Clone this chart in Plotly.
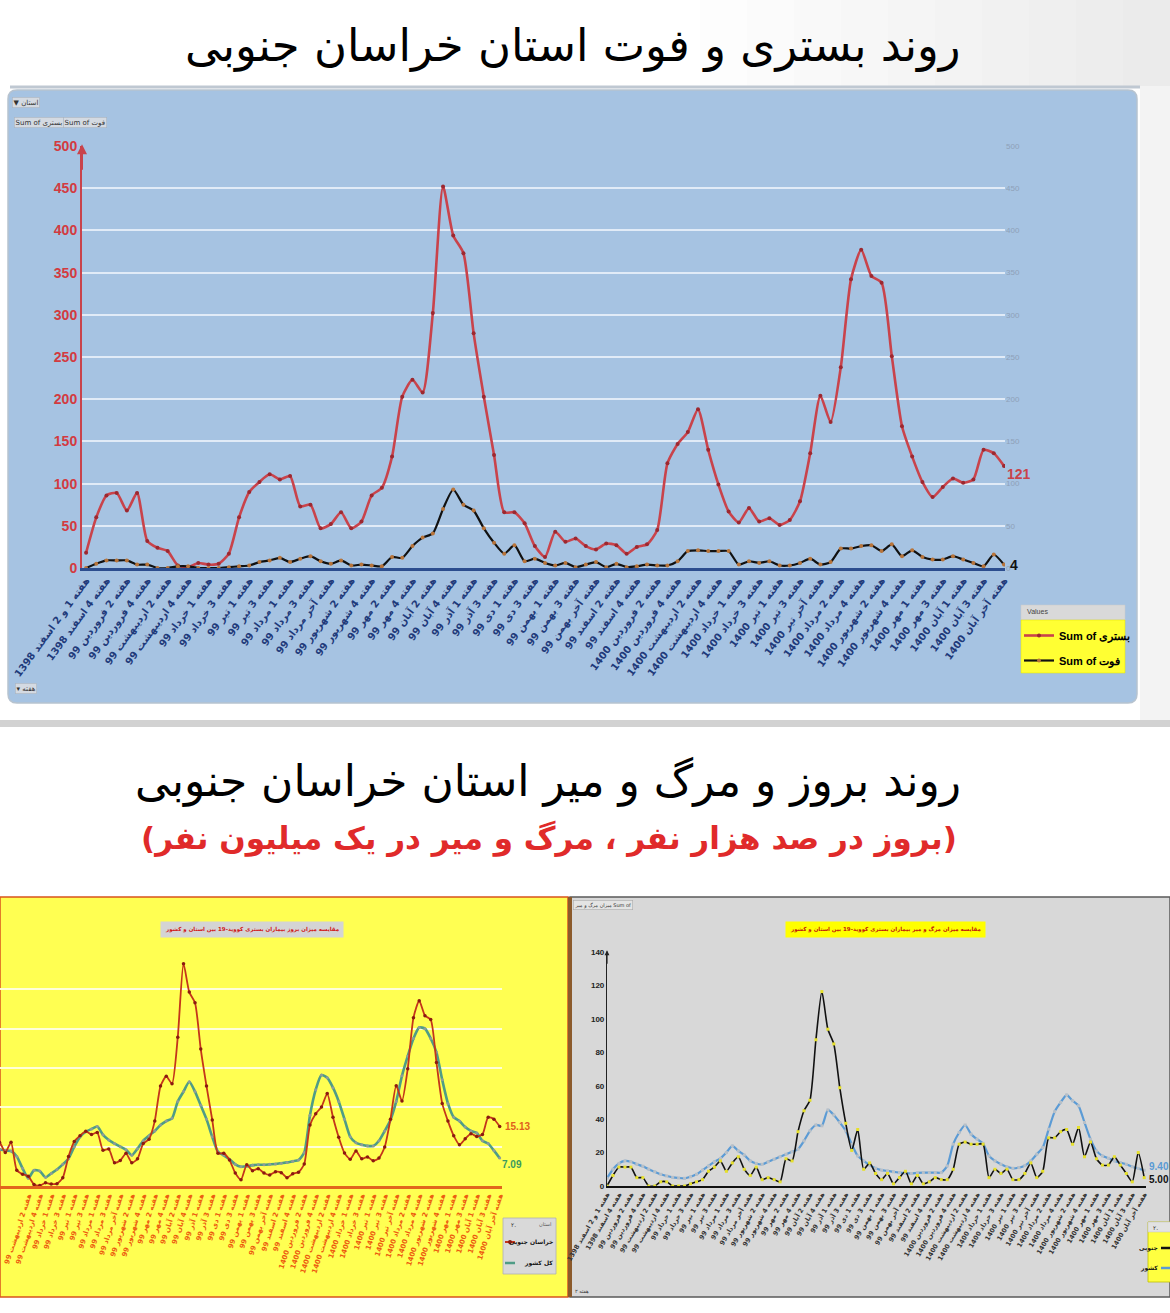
import plotly.graph_objects as go

W, H = 1170, 1313

# ---------------- data ----------------
week_labels = [
    "هفته 1 و 2 اسفند 1398", "هفته 4 اسفند 1398", "هفته 2 فروردین 99", "هفته 4 فروردین 99",
    "هفته 2 اردیبهشت 99", "هفته 4 اردیبهشت 99", "هفته 1 خرداد 99", "هفته 3 خرداد 99",
    "هفته 1 تیر 99", "هفته 3 تیر 99", "هفته 1 مرداد 99", "هفته 3 مرداد 99",
    "هفته آخر مرداد 99", "هفته 2 شهریور 99", "هفته 4 شهریور 99", "هفته 2 مهر 99",
    "هفته 4 مهر 99", "هفته 2 آبان 99", "هفته 4 آبان 99", "هفته 1 آذر 99",
    "هفته 3 آذر 99", "هفته 1 دی 99", "هفته 3 دی 99", "هفته 1 بهمن 99",
    "هفته 3 بهمن 99", "هفته آخر بهمن 99", "هفته 2 اسفند 99", "هفته 4 اسفند 99",
    "هفته 2 فروردین 1400", "هفته 4 فروردین 1400", "هفته 2 اردیبهشت 1400", "هفته 4 اردیبهشت 1400",
    "هفته 1 خرداد 1400", "هفته 3 خرداد 1400", "هفته 1 تیر 1400", "هفته 3 تیر 1400",
    "هفته آخر تیر 1400", "هفته 2 مرداد 1400", "هفته 4 مرداد 1400", "هفته 2 شهریور 1400",
    "هفته 4 شهریور 1400", "هفته 1 مهر 1400", "هفته 3 مهر 1400", "هفته 1 آبان 1400",
    "هفته 3 آبان 1400", "هفته آخر آبان 1400",
]
label_pos = [0, 2, 4, 6, 8, 10, 12, 14, 16, 18, 20, 22, 24, 26, 28, 30, 32, 34, 36, 38,
             40, 42, 44, 46, 48, 50, 52, 54, 56, 58, 60, 62, 64, 66, 68, 70, 72, 74, 76, 78,
             80, 82, 84, 86, 88, 90]
weeks = list(range(91))

# top chart: weekly hospitalised (بستری) and deaths (فوت)
hosp = [18, 60, 86, 89, 68, 89, 32, 24, 20, 3,
        1, 6, 4, 5, 17, 60, 90, 102, 111, 105,
        109, 73, 75, 47, 52, 66, 47, 55, 86, 95,
        132, 203, 223, 208, 302, 452, 394, 373, 278, 203,
        134, 66, 66, 53, 26, 13, 43, 31, 35, 26,
        22, 29, 27, 17, 25, 28, 45, 124, 147, 161,
        188, 140, 99, 67, 54, 71, 55, 59, 51, 57,
        79, 136, 204, 173, 238, 342, 377, 346, 338, 251,
        168, 132, 102, 84, 96, 106, 101, 105, 140, 136, 121]
death = [0, 5, 9, 9, 9, 4, 4, 0, 0, 2,
         2, 0, 0, 0, 1, 2, 3, 7, 9, 12,
         7, 11, 14, 8, 5, 9, 3, 4, 3, 2,
         13, 12, 26, 36, 41, 70, 93, 75, 68, 47,
         30, 17, 27, 8, 11, 6, 3, 6, 1, 4,
         7, 1, 5, 1, 2, 4, 3, 3, 8, 20,
         21, 20, 20, 20, 4, 8, 6, 8, 3, 3,
         6, 11, 4, 7, 23, 23, 26, 27, 20, 28,
         14, 21, 13, 10, 10, 14, 10, 6, 2, 16, 4]

# bottom-left: incidence of hospitalisation per 100k (province vs country)
inc_prov = [2.3, 7.5, 10.8, 11.1, 8.5, 11.1, 4.0, 3.0, 2.5, 0.4,
            0.1, 0.8, 0.5, 0.6, 2.1, 7.5, 11.3, 12.8, 13.9, 13.1,
            13.6, 9.1, 9.4, 5.9, 6.5, 8.3, 5.9, 6.9, 10.8, 11.9,
            16.5, 25.4, 27.9, 26.0, 37.8, 56.5, 49.3, 46.6, 34.8, 25.4,
            16.8, 8.3, 8.3, 6.6, 3.3, 1.6, 5.4, 3.9, 4.4, 3.3,
            2.8, 3.6, 3.4, 2.1, 3.1, 3.5, 5.6, 15.5, 18.4, 20.1,
            23.5, 17.5, 12.4, 8.4, 6.8, 8.9, 6.9, 7.4, 6.4, 7.1,
            9.9, 17.0, 25.5, 21.6, 29.8, 42.8, 47.1, 43.3, 42.3, 31.4,
            21.0, 16.5, 12.8, 10.5, 12.0, 13.3, 12.6, 13.1, 17.5, 17.0, 15.13]
inc_nat = [7.5, 8.5, 9.2, 9.3, 9.0, 8.9, 7.5, 4.5, 2.0, 4.0,
           3.8, 2.2, 3.2, 4.2, 5.5, 7.0, 10.0, 12.5, 13.8, 14.5,
           15.1, 13.0, 11.7, 10.8, 10.0, 9.2, 7.8, 9.5, 11.5, 12.8,
           14.0, 15.5, 16.5, 17.2, 21.5, 24.0, 26.5, 24.0, 20.5, 17.0,
           12.5, 8.7, 7.8, 6.8, 5.5, 4.9, 5.0, 5.3, 5.4, 5.4,
           5.5, 5.6, 5.8, 6.0, 6.3, 6.6, 8.5, 18.0, 24.5, 28.2,
           27.5, 25.0, 21.5, 17.0, 12.5, 11.0, 10.5, 10.2, 10.2, 11.5,
           14.0, 16.8, 21.5, 28.0, 33.0, 37.5, 40.3, 40.0, 37.5, 34.0,
           27.0, 21.0, 17.5, 16.5, 15.0, 14.0, 13.5, 11.5, 10.8, 9.0, 7.09]

# bottom-right: mortality per million (province vs country)
mort_prov = [0, 6.3, 11.3, 11.3, 11.3, 5.0, 5.0, 0, 0, 2.5,
             2.5, 0, 0, 0, 1.3, 2.5, 3.8, 8.8, 11.3, 15.0,
             8.8, 13.8, 17.5, 10.0, 6.3, 11.3, 3.8, 5.0, 3.8, 2.5,
             16.3, 15.0, 32.5, 45.0, 51.3, 87.5, 116.3, 93.8, 85.0, 58.8,
             37.5, 21.3, 33.8, 10.0, 13.8, 7.5, 3.8, 7.5, 1.3, 5.0,
             8.8, 1.3, 6.3, 1.3, 2.5, 5.0, 3.8, 3.8, 10.0, 25.0,
             26.3, 25.0, 25.0, 25.0, 5.0, 10.0, 7.5, 10.0, 3.8, 3.8,
             7.5, 13.8, 5.0, 8.8, 28.8, 28.8, 32.5, 33.8, 25.0, 35.0,
             17.5, 26.3, 16.3, 12.5, 12.5, 17.5, 12.5, 7.5, 2.5, 20.0, 5.0]
mort_nat = [4.6, 10, 13.5, 15, 14.5, 13, 11.8, 10, 8.5, 7,
            6, 5.2, 4.8, 4.6, 5.5, 7, 9.5, 12, 14.5, 16.5,
            20, 24, 21, 18.5, 15, 13.5, 13, 14.5, 16, 17.5,
            19, 20.5, 22, 27, 33, 36.5, 36, 45.5, 42.5, 38,
            33, 25, 18, 15, 12.5, 10.6, 9.5, 9, 8.5, 8,
            7.6, 7.5, 7.8, 8, 8, 8, 8, 12, 25, 32,
            36.5, 31, 28, 25.5, 18, 15, 13, 11.5, 10.6, 11,
            12.2, 15, 19, 23, 34, 44.5, 50, 54.5, 51, 48,
            38, 28, 21, 18, 16.6, 15, 14, 13, 11.5, 10.5, 9.4]

top_ticks = [0, 50, 100, 150, 200, 250, 300, 350, 400, 450, 500]
br_ticks = [0, 20, 40, 60, 80, 100, 120, 140]

# ---------------- helpers ----------------
def px(x):
    return x / W


def py(y):
    return 1 - y / H


FA = "DejaVu Sans"
NUM = "Liberation Sans, Arial, sans-serif"
RLM = "\u200f"

fig = go.Figure()

# ---- top chart traces ----
fig.add_trace(go.Scatter(
    x=weeks, y=hosp, mode="lines+markers", name="Sum of بستری",
    line=dict(color="#c9434b", width=2.6, shape="spline", smoothing=0.6),
    marker=dict(size=4, color="#9c2830"),
    xaxis="x", yaxis="y", legend="legend", legendgroup="a"))
fig.add_trace(go.Scatter(
    x=weeks, y=death, mode="lines+markers", name="Sum of فوت",
    line=dict(color="#111111", width=2.2, shape="spline", smoothing=0.6),
    marker=dict(size=4, color="#b8743a"),
    xaxis="x", yaxis="y", legend="legend", legendgroup="b"))
fig.add_trace(go.Scatter(
    x=weeks, y=hosp, mode="lines", line=dict(width=0), opacity=0,
    showlegend=False, hoverinfo="skip", xaxis="x", yaxis="y2"))

# ---- bottom-left ----
fig.add_trace(go.Scatter(
    x=weeks, y=inc_nat, mode="lines+markers", name="کل کشور",
    line=dict(color="#4f9c86", width=2.6, shape="spline", smoothing=0.6),
    marker=dict(size=3, color="#8f9c98"), showlegend=False,
    xaxis="x3", yaxis="y3"))
fig.add_trace(go.Scatter(
    x=weeks, y=inc_prov, mode="lines+markers", name="خراسان جنوبی",
    line=dict(color="#c4351a", width=1.8, shape="spline", smoothing=0.6),
    marker=dict(size=3.5, color="#8a1a10"), showlegend=False,
    xaxis="x3", yaxis="y3"))

# ---- bottom-right ----
fig.add_trace(go.Scatter(
    x=weeks, y=mort_nat, mode="lines+markers", name="کل کشور",
    line=dict(color="#5b9bd5", width=2.2, shape="spline", smoothing=0.6),
    marker=dict(size=3, color="#b8c0c8", symbol="square"), showlegend=False,
    xaxis="x4", yaxis="y4"))
fig.add_trace(go.Scatter(
    x=weeks, y=mort_prov, mode="lines+markers", name="خراسان جنوبی",
    line=dict(color="#111111", width=1.6, shape="spline", smoothing=0.6),
    marker=dict(size=3, color="#e6e02a", symbol="square"), showlegend=False,
    xaxis="x4", yaxis="y4"))

ticktext = [RLM + t + RLM for t in week_labels]

# ---------------- shapes ----------------
shapes = []


def rect(x0, y0, x1, y1, fill, line=None, lw=0, layer="below"):
    shapes.append(dict(type="rect", xref="paper", yref="paper",
                       x0=px(x0), x1=px(x1), y0=py(y1), y1=py(y0),
                       fillcolor=fill, line=dict(color=line or fill, width=lw),
                       layer=layer))


def hline(x0, x1, y, color, width, layer="above"):
    shapes.append(dict(type="line", xref="paper", yref="paper",
                       x0=px(x0), x1=px(x1), y0=py(y), y1=py(y),
                       line=dict(color=color, width=width), layer=layer))


# soft grey gradient on the top-right of the header
for k in range(10):
    rect(700 + k * 47, 0, 1170, 86, "rgba(190,190,190,0.035)")
rect(1140, 86, 1170, 720, "rgba(235,235,235,0.6)")
hline(10, 1140, 87, "#bfc8d2", 3, layer="below")

# top panel (rounded)
r = 9
x0, y0, x1, y1 = 8, 90, 1137, 703
path = (f"M {px(x0 + r)},{py(y0)} L {px(x1 - r)},{py(y0)} Q {px(x1)},{py(y0)} {px(x1)},{py(y0 + r)} "
        f"L {px(x1)},{py(y1 - r)} Q {px(x1)},{py(y1)} {px(x1 - r)},{py(y1)} "
        f"L {px(x0 + r)},{py(y1)} Q {px(x0)},{py(y1)} {px(x0)},{py(y1 - r)} "
        f"L {px(x0)},{py(y0 + r)} Q {px(x0)},{py(y0)} {px(x0 + r)},{py(y0)} Z")
shapes.append(dict(type="path", xref="paper", yref="paper", path=path,
                   fillcolor="#a6c3e2", line=dict(color="#b7c3cf", width=1.5), layer="below"))

# separator between the two sections
rect(0, 720, 1170, 727, "#d2d2d2")

# bottom panels
rect(0, 897, 568, 1297, "#ffff52", "#d9541c", 1.5)
rect(570, 897, 1170, 1297, "#d8d8d8", "#5a5a5a", 1.5)
rect(568, 897, 572, 1297, "#8b5a2b")

# top legend box
rect(1021, 605, 1125, 620, "#d9d9d9", "#c8c8c8", 0.5)
rect(1021, 620, 1125, 673, "#ffff33", "#e0e000", 0.5)

# bottom-left legend box
rect(503, 1218, 556, 1274, "#d9d9d9", "#b0b0b0", 0.8, layer="above")
hline(505, 515, 1242, "#c4351a", 2)
hline(505, 515, 1263, "#4f9c86", 2.5)
shapes.append(dict(type="circle", xref="paper", yref="paper",
                   x0=px(508), x1=px(512), y0=py(1244), y1=py(1240),
                   fillcolor="#8a1a10", line=dict(width=0)))

# bottom-right legend box (cut by the image edge)
rect(1148, 1222, 1172, 1282, "#ffff40", "#c0c000", 0.8, layer="above")
rect(1148, 1222, 1172, 1232, "#e2e2e2", "#c0c0c0", 0.5, layer="above")
hline(1161, 1170, 1248, "#111111", 2.5)
hline(1161, 1170, 1268, "#5b9bd5", 2.5)

# ---------------- annotations ----------------
ann = []


def text(x, y, s, size, color="#000", family=FA, xanchor="center", yanchor="middle",
         bold=False, bg=None, border=None, pad=1):
    d = dict(xref="paper", yref="paper", x=px(x), y=py(y), text=s, showarrow=False,
             xanchor=xanchor, yanchor=yanchor,
             font=dict(size=size, color=color, family=family,
                       weight="bold" if bold else "normal"))
    if bg:
        d["bgcolor"] = bg
        d["borderpad"] = pad
    if border:
        d["bordercolor"] = border
        d["borderwidth"] = 0.6
    ann.append(d)


text(572, 46, RLM + "روند بستری و فوت استان خراسان جنوبی" + RLM, 45, "#000")
text(548, 781, RLM + "روند بروز و مرگ و میر استان خراسان جنوبی" + RLM, 44, "#000")
text(549, 838, RLM + "(بروز در صد هزار نفر ، مرگ و میر در یک میلیون نفر)" + RLM, 31, "#e02a2a",
     bold=True)

# small pivot buttons
text(12, 102, "▼ استان", 7, "#333", xanchor="left", bg="#d4dae2", border="#aab4c0")
text(14, 123, RLM + "Sum of بستری" + RLM, 7, "#333", xanchor="left", bg="#d4dae2", border="#aab4c0")
text(63, 123, RLM + "Sum of فوت" + RLM, 7, "#333", xanchor="left", bg="#d4dae2", border="#aab4c0")
text(15, 688, "▾ هفته", 7, "#333", xanchor="left", bg="#d4dae2", border="#aab4c0")
text(1025, 612, "Values", 7, "#444", family=NUM, xanchor="left")

# end labels
ann.append(dict(xref="x", yref="y", x=90, y=hosp[-1], text=str(hosp[-1]), showarrow=False,
                xanchor="left", yanchor="top", xshift=1, yshift=2,
                font=dict(size=14, color="#c9434b", family=NUM, weight="bold")))
ann.append(dict(xref="x", yref="y", x=90, y=death[-1], text=str(death[-1]), showarrow=False,
                xanchor="left", yanchor="middle", xshift=4,
                font=dict(size=14, color="#111", family=NUM, weight="bold")))
# red y-axis arrow
ann.append(dict(xref="x", yref="y", axref="x", ayref="y", x=-0.4, y=502, ax=-0.4, ay=470,
                text="", showarrow=True, arrowhead=2, arrowsize=1, arrowwidth=2,
                arrowcolor="#c9434b"))

# bottom-left
text(252, 930, RLM + "مقایسه میزان بروز بیماران بستری کووید-19 بین استان و کشور" + RLM, 5.5,
     "#d01818", bold=True, bg="#d4d4d4", pad=4)
ann.append(dict(xref="x3", yref="y3", x=90, y=inc_prov[-1], text="15.13", showarrow=False,
                xanchor="left", xshift=3, font=dict(size=10, color="#e0601c", family=NUM,
                                                    weight="bold")))
ann.append(dict(xref="x3", yref="y3", x=90, y=inc_nat[-1], text="7.09", showarrow=False,
                xanchor="left", xshift=0, yshift=-6, font=dict(size=10, color="#3a9a60", family=NUM,
                                                               weight="bold")))
text(509, 1224, "۲.", 6, "#333", xanchor="left")
text(553, 1224, "استان", 5, "#555", xanchor="right")
text(555, 1242, "خراسان جنوبی", 6, "#111", xanchor="right", bold=True)
text(555, 1263, "کل کشور", 6, "#111", xanchor="right", bold=True)

# bottom-right
text(885, 930, RLM + "مقایسه میزان مرگ و میر بیماران بستری کووید-19 بین استان و کشور" + RLM, 5.5,
     "#c0180c", bold=True, bg="#ffff00", pad=4)
text(573, 905, RLM + "میزان مرگ و میر Sum of" + RLM, 5, "#333", xanchor="left", bg="#e4e4e4",
     border="#aaaaaa")
text(573, 1291, "۲ هفته", 5, "#333", xanchor="left")
ann.append(dict(xref="x4", yref="y4", x=90, y=mort_nat[-1], text="9.40", showarrow=False,
                xanchor="left", xshift=3, yshift=4,
                font=dict(size=10, color="#5b9bd5", family=NUM, weight="bold")))
ann.append(dict(xref="x4", yref="y4", x=90, y=mort_prov[-1], text="5.00", showarrow=False,
                xanchor="left", xshift=3, yshift=-2,
                font=dict(size=10, color="#111", family=NUM, weight="bold")))
ann.append(dict(xref="x4", yref="y4", axref="x4", ayref="y4", x=0, y=141, ax=0, ay=132,
                text="", showarrow=True, arrowhead=2, arrowsize=0.8, arrowwidth=1.2,
                arrowcolor="#222"))
text(1160, 1227, "۲.", 6, "#333", xanchor="right")
text(1160, 1248, "جنوبی", 6, "#111", xanchor="right", bold=True)
text(1160, 1268, "کشور", 6, "#111", xanchor="right", bold=True)

# ---------------- layout ----------------
fig.update_layout(
    width=W, height=H, autosize=False,
    margin=dict(l=0, r=0, t=0, b=0, pad=0, autoexpand=False),
    paper_bgcolor="#ffffff", plot_bgcolor="rgba(0,0,0,0)",
    shapes=shapes, annotations=ann,
    hovermode=False,
    legend=dict(x=px(1019), y=py(621), xanchor="left", yanchor="top",
                bgcolor="rgba(0,0,0,0)", borderwidth=0,
                font=dict(size=11, color="#000", family=NUM, weight="bold"),
                traceorder="grouped", tracegroupgap=6, itemwidth=30),
    xaxis=dict(domain=[px(82), px(1005)], range=[-0.4, 90.1], anchor="y",
               tickmode="array", tickvals=label_pos, ticktext=ticktext, tickangle=-54,
               tickfont=dict(size=10, color="#1f3a7a", family=FA, weight="bold"),
               showline=True, linecolor="#2c4d8e", linewidth=2.5, showgrid=False,
               zeroline=False, ticks="", automargin=False),
    yaxis=dict(domain=[py(568), py(146)], range=[0, 500], anchor="x",
               tickmode="array", tickvals=top_ticks,
               tickfont=dict(size=14, color="#d33a40", family=NUM, weight="bold"),
               gridcolor="rgba(232,240,250,0.9)", gridwidth=1.5,
               showline=True, linecolor="#c9434b", linewidth=2, zeroline=False,
               ticks="", automargin=False),
    yaxis2=dict(overlaying="y", side="right", range=[0, 500], anchor="x",
                tickmode="array", tickvals=top_ticks, showgrid=False, zeroline=False,
                tickfont=dict(size=8, color="#8ea1b8", family=NUM), ticks="",
                automargin=False),
    xaxis3=dict(domain=[0, px(502)], range=[3.08, 90.4], anchor="y3",
                tickmode="array", tickvals=label_pos, ticktext=ticktext, tickangle=-72,
                tickfont=dict(size=7, color="#ec5a0e", family=FA, weight="bold"),
                showline=True, linecolor="#e2661c", linewidth=2.5, showgrid=False,
                zeroline=False, ticks="", automargin=False),
    yaxis3=dict(domain=[py(1186), py(950)], range=[0, 60], anchor="x3",
                tickmode="array", tickvals=[0, 10, 20, 30, 40, 50, 60], showticklabels=False,
                gridcolor="rgba(255,255,215,1)", gridwidth=1.5, zeroline=False, showline=False,
                automargin=False),
    xaxis4=dict(domain=[px(607), px(1146)], range=[0, 90.3], anchor="y4",
                tickmode="array", tickvals=label_pos, ticktext=ticktext, tickangle=-60,
                tickfont=dict(size=6.5, color="#333", family=FA, weight="bold"),
                showline=True, linecolor="#111", linewidth=2, showgrid=False,
                zeroline=False, ticks="", automargin=False),
    yaxis4=dict(domain=[py(1186), py(952)], range=[0, 140], anchor="x4",
                tickmode="array", tickvals=br_ticks,
                tickfont=dict(size=8, color="#222", family=NUM, weight="bold"),
                showgrid=False, zeroline=False, showline=True, linecolor="#222",
                linewidth=1.2, ticks="", automargin=False),
)

fig.write_html("out.html")
